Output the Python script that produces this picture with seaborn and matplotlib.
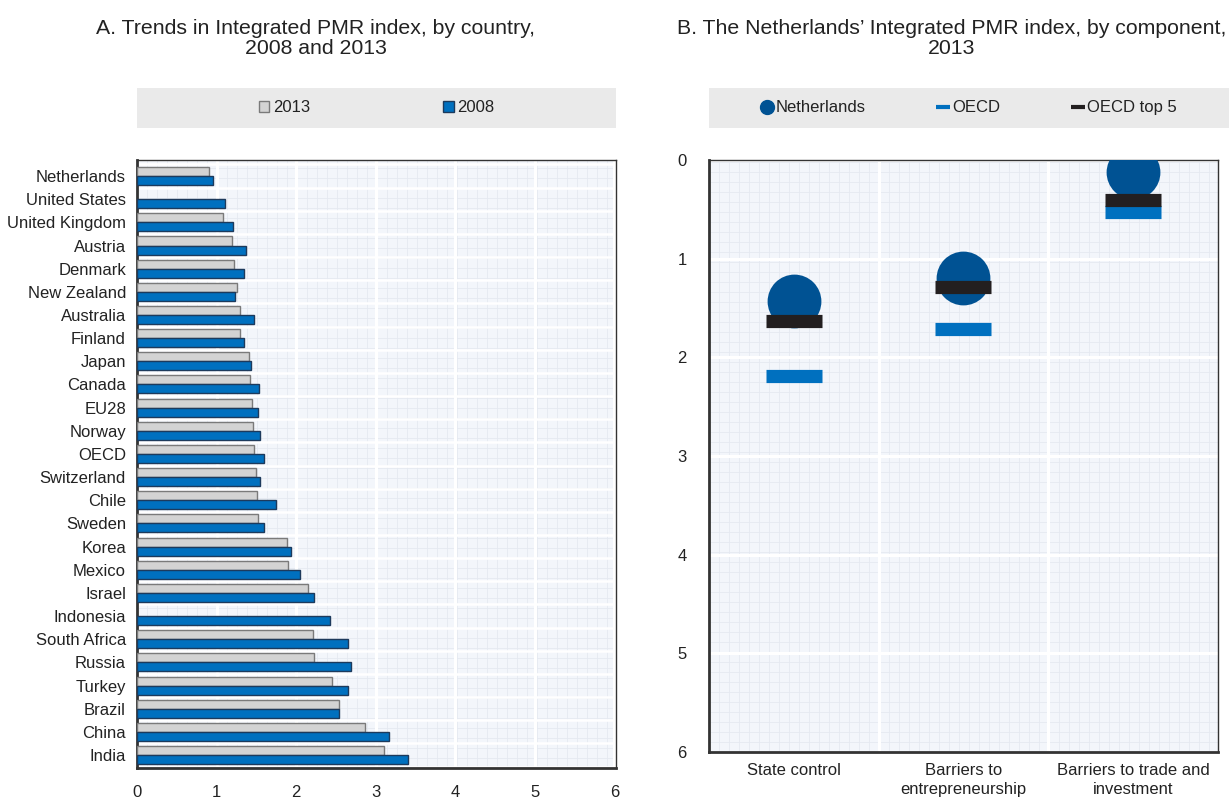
import seaborn as sns
import matplotlib.pyplot as plt
import pandas as pd
import numpy as np
from matplotlib.patches import Patch
from matplotlib.lines import Line2D
from matplotlib.ticker import MultipleLocator, FixedLocator

# panel A data
countries = ["Netherlands", "United States", "United Kingdom", "Austria", "Denmark",
             "New Zealand", "Australia", "Finland", "Japan", "Canada", "EU28", "Norway",
             "OECD", "Switzerland", "Chile", "Sweden", "Korea", "Mexico", "Israel",
             "Indonesia", "South Africa", "Russia", "Turkey", "Brazil", "China", "India"]
pmr_2013 = [0.91, np.nan, 1.08, 1.19, 1.22, 1.26, 1.29, 1.29, 1.41, 1.42, 1.44, 1.46,
            1.47, 1.50, 1.51, 1.52, 1.88, 1.90, 2.15, np.nan, 2.21, 2.22, 2.45, 2.54,
            2.86, 3.10]
pmr_2008 = [0.96, 1.11, 1.20, 1.37, 1.35, 1.23, 1.47, 1.34, 1.43, 1.53, 1.52, 1.54,
            1.59, 1.55, 1.75, 1.60, 1.94, 2.05, 2.22, 2.42, 2.65, 2.69, 2.65, 2.54,
            3.17, 3.40]

# panel B data
components = ["State control", "Barriers to\nentrepreneurship", "Barriers to trade and\ninvestment"]
nld = [1.43, 1.20, 0.12]
oecd = [2.19, 1.71, 0.53]
oecd_top5 = [1.63, 1.29, 0.40]

sns.set_style("white")
plt.rcParams["font.family"] = ["Liberation Sans", "DejaVu Sans"]
plt.rcParams["text.color"] = "#222222"
plt.rcParams["xtick.color"] = "#222222"
plt.rcParams["ytick.color"] = "#222222"
fs = 12

BG = "#F3F6FB"
FINE = "#E5E9F1"
BLUE = "#0070BF"
NAVY = "#005293"
GRAY = "#D3D3D3"

df = pd.DataFrame({
    "country": countries * 2,
    "value": pmr_2013 + pmr_2008,
    "year": ["2013"] * len(countries) + ["2008"] * len(countries),
}).dropna()

fig = plt.figure(figsize=(12.29, 7.99), dpi=100)


def fine_background(rect):
    # faint 10px grid texture behind the plot area
    bg = fig.add_axes(rect, zorder=0)
    w = rect[2] * 1229
    h = rect[3] * 799
    bg.set_xlim(0, w)
    bg.set_ylim(0, h)
    bg.set_facecolor(BG)
    bg.xaxis.set_major_locator(MultipleLocator(10))
    bg.yaxis.set_major_locator(MultipleLocator(10))
    bg.grid(True, color=FINE, lw=0.6)
    bg.tick_params(length=0, labelbottom=False, labelleft=False)
    for sp in bg.spines.values():
        sp.set_visible(False)


# ---- Panel A ----
rectA = [0.1115, 0.0388, 0.3897, 0.7609]
fine_background(rectA)
axA = fig.add_axes(rectA, zorder=1)
axA.set_facecolor("none")
sns.barplot(data=df, y="country", x="value", hue="year", hue_order=["2013", "2008"],
            order=countries, palette={"2013": GRAY, "2008": BLUE}, width=0.78,
            saturation=1, orient="h", errorbar=None, legend=False, ax=axA, zorder=3)
for cont, ec in zip(axA.containers, ["#7A7A7A", "#1D3A5C"]):
    for p in cont:
        p.set_edgecolor(ec)
        p.set_linewidth(1.0)
axA.set_xlim(0, 6.02)
axA.set_ylim(25.56, -0.69)
axA.xaxis.set_major_locator(MultipleLocator(1))
axA.yaxis.set_minor_locator(FixedLocator(np.arange(-0.5, 26, 1)))
axA.grid(axis="x", which="major", color="white", lw=2.2, zorder=1)
axA.grid(axis="y", which="minor", color="white", lw=1.8, zorder=1)
axA.set_axisbelow(True)
axA.tick_params(axis="x", which="major", direction="in", length=5, width=1.2,
                labelsize=fs, pad=12)
axA.tick_params(axis="y", which="major", length=0, labelsize=fs, pad=8)
axA.tick_params(axis="y", which="minor", direction="in", length=5, width=1)
axA.set_xlabel("")
axA.set_ylabel("")
for side, sp in axA.spines.items():
    sp.set_visible(True)
    sp.set_color("#333333")
    sp.set_linewidth(2 if side in ("left", "bottom") else 1)

# ---- Panel B ----
rectB = [0.5769, 0.0588, 0.4141, 0.7409]
fine_background(rectB)
axB = fig.add_axes(rectB, zorder=1)
axB.set_facecolor("none")
dfB = pd.DataFrame({"component": components, "nld": nld, "oecd": oecd, "top5": oecd_top5})
sns.scatterplot(data=dfB, x="component", y="nld", marker="o", s=1500, color=NAVY,
                linewidth=0, ax=axB, zorder=3)
sns.scatterplot(data=dfB, x="component", y="oecd", marker="_", s=1600, color=BLUE,
                linewidth=9.5, ax=axB, zorder=4)
sns.scatterplot(data=dfB, x="component", y="top5", marker="_", s=1600, color="#231F20",
                linewidth=9.5, ax=axB, zorder=5)
axB.set_xlim(-0.5, 2.5)
axB.set_ylim(6, 0)
axB.yaxis.set_major_locator(MultipleLocator(1))
axB.xaxis.set_minor_locator(FixedLocator([0.5, 1.5]))
axB.grid(axis="y", which="major", color="white", lw=2.2, zorder=1)
axB.grid(axis="x", which="minor", color="white", lw=2.2, zorder=1)
axB.set_axisbelow(True)
axB.tick_params(axis="x", which="major", length=0, labelsize=fs, pad=8)
axB.tick_params(axis="x", which="minor", direction="in", length=6, width=1.5)
axB.tick_params(axis="y", which="major", direction="in", length=5, width=1.2,
                labelsize=fs, pad=16)
axB.set_xlabel("")
axB.set_ylabel("")
for side, sp in axB.spines.items():
    sp.set_visible(True)
    sp.set_color("#333333")
    sp.set_linewidth(2 if side in ("left", "bottom") else 1)
for lab in axB.get_xticklabels():
    lab.set_linespacing(1.3)

# ---- legend strips ----
stripA = fig.add_axes([0.1115, 0.8398, 0.3897, 0.0501])
stripB = fig.add_axes([0.5769, 0.8398, 0.4231, 0.0501])
for s in (stripA, stripB):
    s.set_facecolor("#EAEAEA")
    s.set_xticks([])
    s.set_yticks([])
    for sp in s.spines.values():
        sp.set_visible(False)

hA = [Patch(facecolor=GRAY, edgecolor="#7A7A7A", label="2013"),
      Patch(facecolor=BLUE, edgecolor="#1D3A5C", label="2008")]
stripA.legend(handles=hA, loc="center", ncol=2, frameon=False, fontsize=fs,
              handlelength=0.65, handleheight=0.65, handletextpad=0.2,
              columnspacing=8.0)
hB = [Line2D([], [], marker="o", ls="", color=NAVY, markersize=10, label="Netherlands"),
      Line2D([], [], marker="_", ls="", color=BLUE, markersize=10, mew=3, label="OECD"),
      Line2D([], [], marker="_", ls="", color="#231F20", markersize=10, mew=3,
             label="OECD top 5")]
stripB.legend(handles=hB, loc="center", ncol=3, frameon=False, fontsize=fs,
              handlelength=0.7, handletextpad=0.2, columnspacing=4.3)

# ---- titles ----
fig.text(0.257, 0.952, "A. Trends in Integrated PMR index, by country,\n2008 and 2013",
         ha="center", va="center", fontsize=15.3, linespacing=1.05)
fig.text(0.774, 0.952, "B. The Netherlands\u2019 Integrated PMR index, by component,\n2013",
         ha="center", va="center", fontsize=15.3, linespacing=1.05)

fig.savefig("out.png", dpi=100)
